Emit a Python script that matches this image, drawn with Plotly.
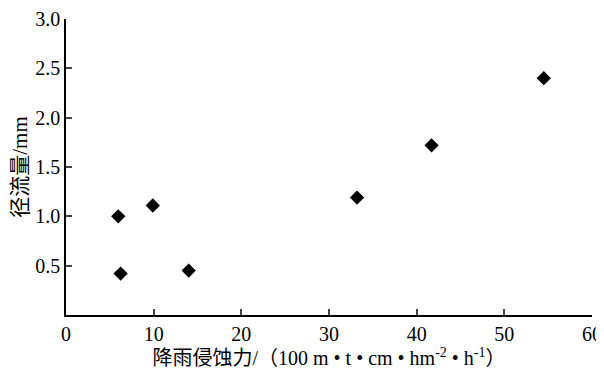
import plotly.graph_objects as go

erosivity = [5.96, 9.9, 6.23, 14.0, 33.2, 41.7, 54.5]
runoff = [1.00, 1.11, 0.42, 0.45, 1.19, 1.72, 2.40]
x_ticks = [0, 10, 20, 30, 40, 50, 60]
y_ticks = [0.5, 1.0, 1.5, 2.0, 2.5, 3.0]
y_tick_text = ["0.5", "1.0", "1.5", "2.0", "2.5", "3.0"]

FONT = "Liberation Serif"
CJK = "Liberation Serif, Noto Sans CJK SC"

fig = go.Figure()
fig.add_trace(go.Scatter(
    x=erosivity, y=runoff, mode="markers",
    marker=dict(symbol="diamond", size=11, color="black", line=dict(width=0)),
    showlegend=False, cliponaxis=False,
))

fig.update_layout(
    width=596, height=366,
    margin=dict(l=58, r=12, t=11, b=59, autoexpand=False),
    paper_bgcolor="white", plot_bgcolor="white",
    font=dict(family=FONT, size=20, color="black"),
    xaxis=dict(
        range=[0, 60], tickvals=x_ticks, ticks="inside", ticklen=6, tickwidth=1.5,
        showline=True, linecolor="black", linewidth=1.5, showgrid=False, zeroline=False,
        automargin=False,
        tickfont=dict(family=FONT, size=20, color="black"),
        title=dict(text="降雨侵蚀力/（100 m • t • cm • hm<sup>-2</sup> • h<sup>-1</sup>）",
                   font=dict(family=CJK, size=20, color="black"), standoff=2),
    ),
    yaxis=dict(
        range=[0, 3.0], tickvals=y_ticks, ticktext=y_tick_text, ticks="inside", ticklen=6,
        tickwidth=1.5, showline=True, linecolor="black", linewidth=1.5, showgrid=False,
        zeroline=False, automargin=False,
        tickfont=dict(family=FONT, size=20, color="black"),
        title=dict(text="径流量/mm", font=dict(family=CJK, size=21, color="black"), standoff=2),
    ),
)

fig.write_html("out.html")
